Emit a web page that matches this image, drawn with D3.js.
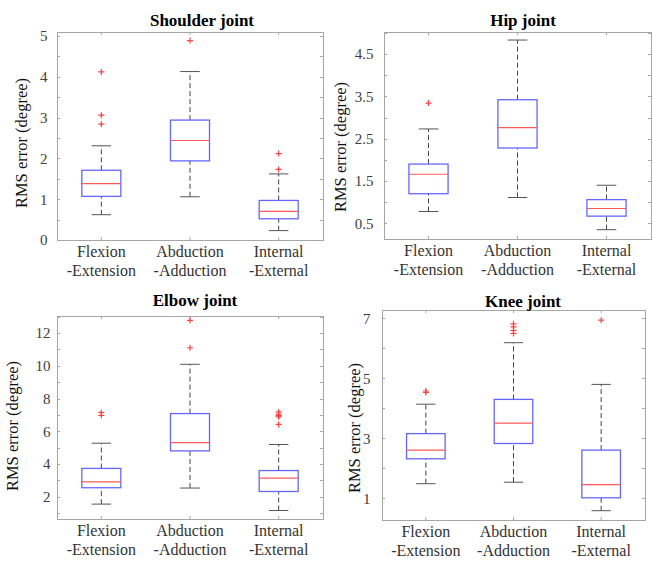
<!DOCTYPE html>
<html>
<head>
<meta charset="utf-8">
<script src="https://cdn.jsdelivr.net/npm/d3@7"></script>
<style>
  body { margin: 0; background: #fff; }
  svg { display: block; }
  text { font-family: "Liberation Serif", "Times New Roman", serif; }
</style>
</head>
<body>
<div id="chart"></div>
<script>
// categories (two-line labels)
var categories = [["Flexion", "-Extension"], ["Abduction", "-Adduction"], ["Internal", "-External"]];

// box stats: [lower whisker, Q1, median, Q3, upper whisker]
var shoulderStats = [[0.62, 1.07, 1.38, 1.71, 2.31], [1.06, 1.94, 2.44, 2.94, 4.13], [0.23, 0.52, 0.70, 0.97, 1.62]];
var shoulderOutliers = [[2.84, 3.06, 4.12], [4.89], [1.73, 2.12]];
var shoulderTicks = [0, 1, 2, 3, 4, 5];
var shoulderMinor = [0.5, 1.5, 2.5, 3.5, 4.5];

var hipStats = [[0.78, 1.20, 1.66, 1.90, 2.73], [1.11, 2.28, 2.76, 3.42, 4.83], [0.35, 0.67, 0.85, 1.06, 1.40]];
var hipOutliers = [[3.34], [], []];
var hipTicks = [0.5, 1.5, 2.5, 3.5, 4.5];
var hipMinor = [1, 2, 3, 4, 5];

var elbowStats = [[1.55, 2.55, 2.91, 3.73, 5.27], [2.53, 4.80, 5.31, 7.08, 10.09], [1.16, 2.32, 3.14, 3.60, 5.19]];
var elbowOutliers = [[6.97, 7.15], [11.10, 12.77], [6.42, 6.88, 6.95, 7.05, 7.18]];
var elbowTicks = [2, 4, 6, 8, 10, 12];
var elbowMinor = [1, 3, 5, 7, 9, 11, 13];

var kneeStats = [[1.49, 2.32, 2.61, 3.16, 4.14], [1.54, 2.83, 3.51, 4.30, 6.19], [0.59, 1.02, 1.46, 2.61, 4.80]];
var kneeOutliers = [[4.53, 4.58], [6.50, 6.60, 6.72, 6.82], [6.94]];
var kneeTicks = [1, 3, 5, 7];
var kneeMinor = [2, 4, 6];

var W = 653, H = 562;
var FONT = "'Liberation Serif', 'Times New Roman', serif";
var svg = d3.select("#chart").append("svg").attr("width", W).attr("height", H);

var panels = [
  {title: "Shoulder joint", stats: shoulderStats, out: shoulderOutliers, ticks: shoulderTicks, minor: shoulderMinor,
   domain: [0, 5.1], l: 57, r: 323, t: 32, b: 240, tx: 202, ty: 26, lx: 27, ly: 143, pad: 10},
  {title: "Hip joint", stats: hipStats, out: hipOutliers, ticks: hipTicks, minor: hipMinor,
   domain: [0.13, 5.02], l: 384, r: 651, t: 32, b: 239, tx: 523, ty: 26, lx: 346, ly: 147, pad: 11},
  {title: "Elbow joint", stats: elbowStats, out: elbowOutliers, ticks: elbowTicks, minor: elbowMinor,
   domain: [0.64, 13.04], l: 57, r: 323, t: 316, b: 519, tx: 195, ty: 306, lx: 18, ly: 426, pad: 7},
  {title: "Knee joint", stats: kneeStats, out: kneeOutliers, ticks: kneeTicks, minor: kneeMinor,
   domain: [0.28, 7.28], l: 382, r: 645, t: 310, b: 520, tx: 523, ty: 307, lx: 360, ly: 428, pad: 12}
];

var boxW = 0.44, capW = 0.22;

panels.forEach(function(p) {
  var x = d3.scaleLinear().domain([0.5, 3.5]).range([p.l, p.r]);
  var y = d3.scaleLinear().domain(p.domain).range([p.b, p.t]);
  var g = svg.append("g");

  // frame
  g.append("rect").attr("x", p.l + 0.5).attr("y", p.t + 0.5)
    .attr("width", p.r - p.l).attr("height", p.b - p.t)
    .attr("fill", "none").attr("stroke", "#a6a6a6").attr("stroke-width", 1);

  // y axis labels (ticks drawn by hand below)
  var yAxis = d3.axisLeft(y).tickValues(p.ticks).tickFormat(function(d) { return String(d); })
    .tickSizeInner(-3).tickSizeOuter(0).tickPadding(p.pad);
  var ya = g.append("g").attr("transform", "translate(" + (p.l + 0.5) + ",0)").call(yAxis)
    .attr("font-family", FONT);
  ya.select(".domain").remove();
  ya.selectAll("line").remove();
  ya.selectAll("text").attr("font-size", 15).attr("fill", "#404040");

  var allY = p.ticks.concat(p.minor);
  g.selectAll(".ml").data(allY).enter().append("line")
    .attr("x1", p.l).attr("x2", p.l + 3)
    .attr("y1", function(d) { return Math.round(y(d)) + 0.5; }).attr("y2", function(d) { return Math.round(y(d)) + 0.5; })
    .attr("stroke", "#a6a6a6");
  g.selectAll(".mr").data(allY).enter().append("line")
    .attr("x1", p.r - 3).attr("x2", p.r)
    .attr("y1", function(d) { return Math.round(y(d)) + 0.5; }).attr("y2", function(d) { return Math.round(y(d)) + 0.5; })
    .attr("stroke", "#a6a6a6");

  // x ticks bottom and top
  [1, 2, 3].forEach(function(c) {
    g.append("line").attr("x1", x(c)).attr("x2", x(c)).attr("y1", p.b).attr("y2", p.b - 3).attr("stroke", "#a6a6a6");
    g.append("line").attr("x1", x(c)).attr("x2", x(c)).attr("y1", p.t).attr("y2", p.t + 3).attr("stroke", "#a6a6a6");
  });

  // x labels
  categories.forEach(function(lab, i) {
    g.append("text").attr("x", x(i + 1)).attr("y", p.b + 17).attr("text-anchor", "middle")
      .attr("font-family", FONT).attr("font-size", 16).attr("fill", "#333").text(lab[0]);
    g.append("text").attr("x", x(i + 1)).attr("y", p.b + 35.5).attr("text-anchor", "middle")
      .attr("font-family", FONT).attr("font-size", 16).attr("fill", "#333").text(lab[1]);
  });

  // title
  g.append("text").attr("x", p.tx).attr("y", p.ty).attr("text-anchor", "middle")
    .attr("font-family", FONT).attr("font-size", 17).attr("font-weight", "bold").attr("fill", "#000").text(p.title);

  // y label
  g.append("text").attr("transform", "translate(" + p.lx + "," + p.ly + ") rotate(-90)")
    .attr("text-anchor", "middle").attr("font-family", FONT).attr("font-size", 16.5)
    .attr("fill", "#111").text("RMS error (degree)");

  // boxes
  p.stats.forEach(function(s, i) {
    var cx = x(i + 1);
    var hw = (x(1 + boxW / 2) - x(1));
    var cw = (x(1 + capW / 2) - x(1));
    // whiskers
    g.append("line").attr("x1", cx).attr("x2", cx).attr("y1", y(s[0])).attr("y2", y(s[1]))
      .attr("stroke", "#444").attr("stroke-dasharray", "5,3");
    g.append("line").attr("x1", cx).attr("x2", cx).attr("y1", y(s[3])).attr("y2", y(s[4]))
      .attr("stroke", "#444").attr("stroke-dasharray", "5,3");
    // caps
    [s[0], s[4]].forEach(function(v) {
      g.append("line").attr("x1", cx - cw).attr("x2", cx + cw).attr("y1", y(v)).attr("y2", y(v))
        .attr("stroke", "#555");
    });
    // box
    g.append("rect").attr("x", cx - hw).attr("y", y(s[3]))
      .attr("width", 2 * hw).attr("height", y(s[1]) - y(s[3]))
      .attr("fill", "#fff").attr("stroke", "#6666ff").attr("stroke-width", 1.3);
    // median
    g.append("line").attr("x1", cx - hw).attr("x2", cx + hw).attr("y1", y(s[2])).attr("y2", y(s[2]))
      .attr("stroke", "#ff5a5a").attr("stroke-width", 1.2);
    // outliers
    p.out[i].forEach(function(v) {
      g.append("path").attr("d", "M" + (cx - 3) + "," + y(v) + "h6M" + cx + "," + (y(v) - 3) + "v6")
        .attr("stroke", "#ff4040").attr("stroke-width", 1.2).attr("fill", "none");
    });
  });
});
</script>
</body>
</html>
